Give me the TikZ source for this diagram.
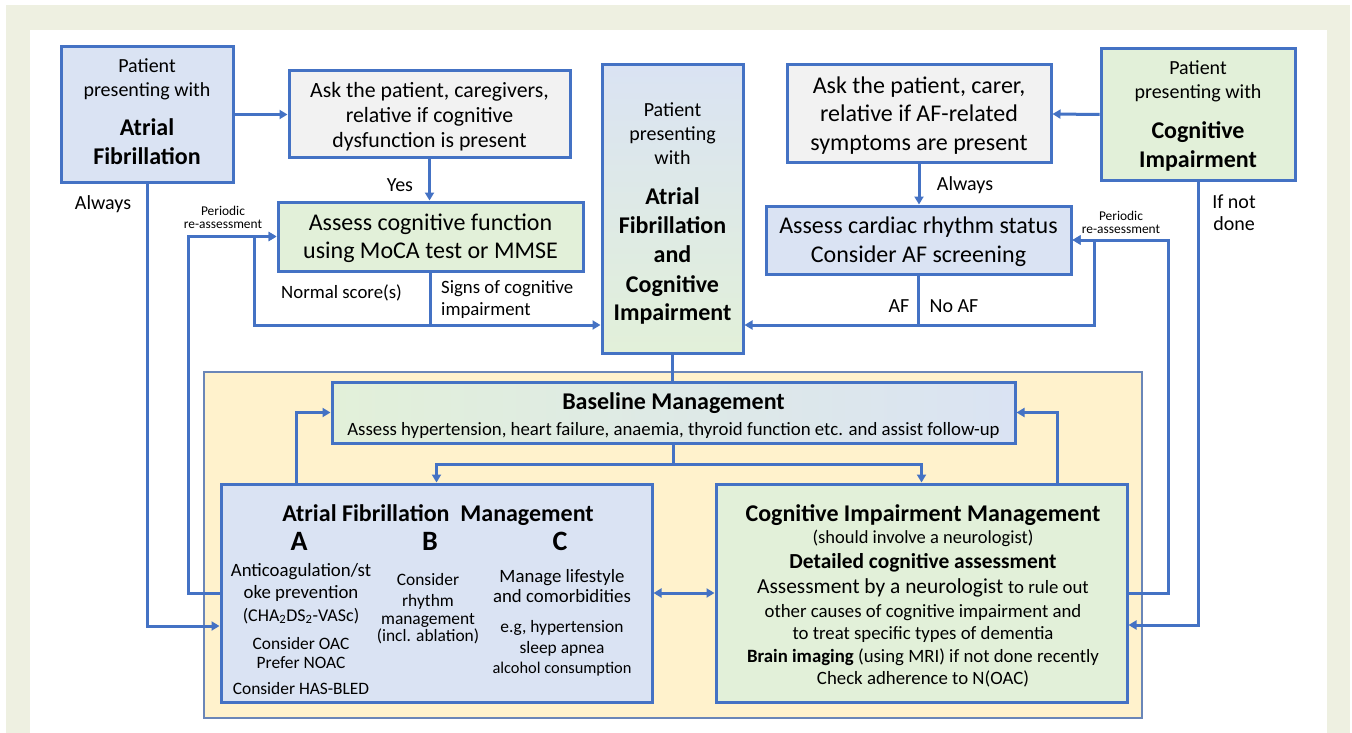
\documentclass[tikz,border=0pt]{standalone}
\usepackage{fontspec}
\setmainfont{Carlito}
\usetikzlibrary{arrows.meta}
\definecolor{lb}{HTML}{4472C4}
\definecolor{fblue}{HTML}{DAE3F3}
\definecolor{fgreen}{HTML}{E2F0D9}
\definecolor{fgray}{HTML}{F2F2F2}
\definecolor{fyellow}{HTML}{FFF2CC}
\definecolor{beige}{HTML}{EEF0E1}
\definecolor{pborder}{HTML}{6A86B8}
\newcommand\fs[1]{\fontsize{#1}{#1}\selectfont}
\begin{document}
\begin{tikzpicture}[x=1pt,y=-1pt,
  box/.style={draw=lb,line width=3pt,inner sep=0pt},
  conn/.style={draw=lb,line width=3pt},
  arr/.style={conn,-{Triangle[length=8pt,width=9pt]}},
  darr/.style={conn,{Triangle[length=8pt,width=9pt]}-{Triangle[length=8pt,width=9pt]}},
  t/.style={anchor=mid,inner sep=0pt,yshift=-5pt},
  s20/.style={t,font=\fs{20}},
  s24/.style={t,font=\fs{24}},
  b24/.style={t,font=\fs{24}\bfseries},
  s19/.style={t,font=\fs{18.8}},
  s17/.style={t,font=\fs{17.4}},
  s13/.style={t,font=\fs{13.4}},
]
\useasboundingbox (0,0) rectangle (1352,733);
\fill[white] (0,0) rectangle (1352,733);
\fill[beige] (6,5) rectangle (1350,733);
\fill[white] (30,30) rectangle (1327,733);

% ---------- boxes ----------
\node[box,fill=fblue,minimum width=172,minimum height=135] (af) at (147,114.5) {};
\node[box,fill=fgray,minimum width=281,minimum height=87] (ask1) at (429.5,114.5) {};
\node[box,fill=fgreen,minimum width=305,minimum height=69] (cog) at (430.5,236.5) {};
\node[box,top color=fblue,bottom color=fgreen,minimum width=141,minimum height=288] (cen) at (672.5,209) {};
\node[box,fill=fgray,minimum width=264,minimum height=98] (ask2) at (919,114) {};
\node[box,fill=fgreen,minimum width=194,minimum height=131] (ci) at (1198,114.5) {};
\node[box,fill=fblue,minimum width=305,minimum height=68] (card) at (918.5,240) {};
\node[draw=pborder,line width=1.2pt,fill=fyellow,minimum width=938,minimum height=346,inner sep=0pt] (panel) at (673,545) {};
\node[box,left color=fgreen,right color=fblue,minimum width=683,minimum height=61] (base) at (673.5,412.5) {};
\node[box,fill=fblue,minimum width=431,minimum height=218] (afm) at (436.5,593) {};
\node[box,fill=fgreen,minimum width=411,minimum height=218] (cim) at (921.5,593) {};

% ---------- texts ----------
\node[s20] (af1) at (147,65) {Patient};
\node[s20] (af2) at (147,89) {presenting with};
\node[b24] (af3) at (147,128) {Atrial};
\node[b24] (af4) at (147,157) {Fibrillation};

\node[t,font=\fs{21.8}] (q1) at (429.5,90) {Ask the patient, caregivers,};
\node[t,font=\fs{21.8}] (q2) at (429.5,115) {relative if cognitive};
\node[t,font=\fs{21.8}] (q3) at (429.5,140) {dysfunction is present};

\node[s24] (c1) at (430.5,223) {Assess cognitive function};
\node[s24] (c2) at (430.5,251) {using MoCA test or MMSE};

\node[s20] (m1) at (672.5,109) {Patient};
\node[s20] (m2) at (672.5,133) {presenting};
\node[s20] (m3) at (672.5,157) {with};
\node[b24] (m4) at (672.5,197) {Atrial};
\node[b24] (m5) at (672.5,226) {Fibrillation};
\node[b24] (m6) at (672.5,255) {and};
\node[b24] (m7) at (672.5,285) {Cognitive};
\node[b24] (m8) at (672.5,313) {Impairment};

\node[s24] (r1) at (919,86) {Ask the patient, carer,};
\node[s24] (r2) at (919,114) {relative if AF-related};
\node[s24] (r3) at (919,143) {symptoms are present};

\node[s20] (ci1) at (1198,67) {Patient};
\node[s20] (ci2) at (1198,91) {presenting with};
\node[b24] (ci3) at (1198,131) {Cognitive};
\node[b24] (ci4) at (1198,160) {Impairment};

\node[s24] (k1) at (918.5,226) {Assess cardiac rhythm status};
\node[s24] (k2) at (918.5,255) {Consider AF screening};

\node[b24] (bl1) at (673.5,402) {Baseline Management};
\node[s19] (bl2) at (673.5,428) {Assess hypertension, heart failure, anaemia, thyroid function etc. and assist follow-up};

\node[b24] (fm) at (438,514) {Atrial Fibrillation\ \ Management};
\node[t,font=\fs{28}\bfseries] (la) at (299,543) {A};
\node[t,font=\fs{28}\bfseries] (lbb) at (430,543) {B};
\node[t,font=\fs{28}\bfseries] (lc) at (560,543) {C};
\node[s19] (a1) at (301,569) {Anticoagulation/st};
\node[s19] (a2) at (301,591) {oke prevention};
\node[t,font=\fs{18}] (a3) at (301,614) {(CHA\textsubscript{2}DS\textsubscript{2}-VASc)};
\node[s17] (a4) at (301,642) {Consider OAC};
\node[s17] (a5) at (301,661) {Prefer NOAC};
\node[s17] (a6) at (301,687) {Consider HAS-BLED};
\node[s17] (bb1) at (428,578) {Consider};
\node[s17] (bb2) at (428,599) {rhythm};
\node[s17] (bb3) at (428,617) {management};
\node[s17] (bb4) at (428,634) {(incl. ablation)};
\node[s19] (cc1) at (562,575) {Manage lifestyle};
\node[s19] (cc2) at (562,595) {and comorbidities};
\node[s17] (cc3) at (562,625) {e.g, hypertension};
\node[s17] (cc4) at (562,646) {sleep apnea};
\node[t,font=\fs{16.4}] (cc5) at (562,666) {alcohol consumption};

\node[b24] (cm1) at (923,514) {Cognitive Impairment Management};
\node[t,font=\fs{18.5}] (cm2) at (923,536) {(should involve a neurologist)};
\node[t,font=\fs{21.4}\bfseries] (cm3) at (923,561) {Detailed cognitive assessment};
\node[t,font=\fs{21.4}] (cm4) at (923,586) {Assessment by a neurologist {\fs{18.8}to rule out}};
\node[s19] (cm5) at (923,610) {other causes of cognitive impairment and};
\node[s19] (cm6) at (923,632) {to treat specific types of dementia};
\node[s19] (cm7) at (923,655) {\textbf{Brain imaging} (using MRI) if not done recently};
\node[s19] (cm8) at (923,677) {Check adherence to N(OAC)};

% ---------- labels ----------
\node[s20] (lAlways1) at (103,202) {Always};
\node[s13] (lPer1a) at (223,208) {Periodic};
\node[s13] (lPer1b) at (223,221) {re-assessment};
\node[s20] (lYes) at (400,184) {Yes};
\node[s19,anchor=west] (lNorm) at (281,288) {Normal score(s)};
\node[s19,anchor=west] (lSign1) at (441,284) {Signs of cognitive};
\node[s19,anchor=west] (lSign2) at (441,306) {impairment};
\node[s20] (lAlways2) at (965,183) {Always};
\node[s20] (lAF) at (899,305) {AF};
\node[s20] (lNoAF) at (954,305) {No AF};
\node[s13] (lPer2a) at (1121,213) {Periodic};
\node[s13] (lPer2b) at (1121,226) {re-assessment};
\node[s20] (lIf1) at (1234,201) {If not};
\node[s20] (lIf2) at (1234,223) {done};

% ---------- connectors ----------
\draw[arr] (af.east) -- (ask1.west);
\draw[arr] (ask1.south) -- (ask1.south |- cog.north);
\coordinate (j1) at (431,325);
\coordinate (j2) at (254,325);
\coordinate (p1) at (188,593);
\coordinate (a1c) at (147,626);
\draw[arr] (cog.south) |- (cen.west |- j1);
\draw[arr] (cog.south |- j1) -- (j2) |- (cog.west);
\draw[arr] (afm.west) -- (p1) |- (cog.west);
\draw[arr] (af.south) |- (afm.west |- a1c);

\draw[arr] (ci.west) -- (ask2.east);
\draw[arr] (ask2.south) -- (ask2.south |- card.north);
\coordinate (j3) at (918,325);
\coordinate (j4) at (1094,325);
\coordinate (p2) at (1168,593);
\coordinate (a2c) at (1198,625);
\draw[arr] (card.south) |- (cen.east |- j3);
\draw[arr] (card.south |- j3) -- (j4) |- (card.east);
\draw[arr] (cim.east) -- (p2) |- (card.east);
\draw[arr] (ci.south) |- (cim.east |- a2c);

\draw[conn] (cen.south) -- (cen.south |- base.north);
\coordinate (b1) at (673,464);
\draw[conn] (base.south) -- (base.south |- b1);
\draw[arr] (base.south |- b1) -| (afm.north);
\draw[arr] (base.south |- b1) -| (cim.north);
\coordinate (u1) at (296,484);
\coordinate (u2) at (1057,484);
\draw[arr] (u1) |- (base.west);
\draw[arr] (u2) |- (base.east);
\draw[darr] (afm.east) -- (cim.west);
\end{tikzpicture}
\end{document}
